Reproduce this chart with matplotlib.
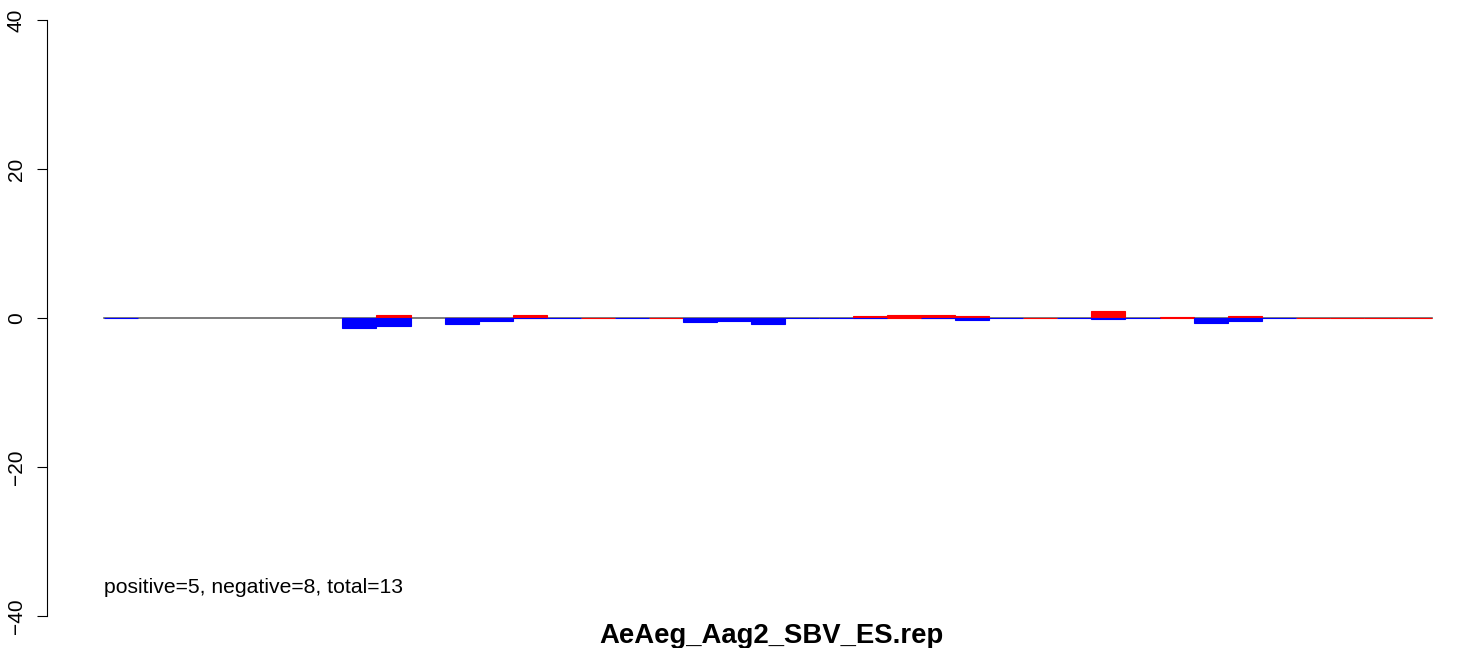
import matplotlib
matplotlib.use('Agg')
import matplotlib.pyplot as plt
import numpy as np

plt.rcParams['font.family'] = ['Liberation Sans', 'DejaVu Sans']

nan = np.nan
# red = positive values, blue = negative values (nan = no bar)
red_values = [nan, nan, nan, nan, nan, nan, nan, nan, 0.35, nan,
              0.0, 0.0, 0.45, nan, 0.0, nan, 0.0, nan, nan, nan,
              nan, nan, 0.3, 0.45, 0.45, 0.25, nan, 0.0, nan, 1.0,
              nan, 0.2, nan, 0.3, nan, 0.0, 0.0, 0.0, 0.0]
blue_values = [0.0, nan, nan, nan, nan, nan, nan, -1.4, -1.1, nan,
               -0.85, -0.45, 0.0, 0.0, nan, 0.0, nan, -0.6, -0.45, -0.8,
               0.0, 0.0, 0.0, nan, 0.0, -0.3, 0.0, nan, 0.0, -0.1,
               0.0, nan, -0.7, -0.45, 0.0, nan, nan, nan, nan]
y_ticks = [-40, -20, 0, 20, 40]
title = 'AeAeg_Aag2_SBV_ES.rep'
summary = 'positive=5, negative=8, total=13'

W, H = 1460, 648
fig = plt.figure(figsize=(W / 100, H / 100), dpi=100)

# plot region in pixels (R style, extends past the edges)
left_px, right_px, top_px, bottom_px = 51, 1485, -3.8, 639.8
ax = fig.add_axes([left_px / W, 1 - bottom_px / H,
                   (right_px - left_px) / W, (bottom_px - top_px) / H])

n = len(red_values)
x = np.arange(n)
ax.set_xlim(-0.04 * n, n * 1.04)
ax.set_ylim(-43.2, 43.2)

ax.plot([0, n], [0, 0], color='#666666', lw=1.2, zorder=1)

for xi, v in zip(x, red_values):
    if not np.isnan(v):
        ax.bar(xi, v, width=1, align='edge', color='red', edgecolor='red', lw=0.8, zorder=2)
for xi, v in zip(x, blue_values):
    if not np.isnan(v):
        ax.bar(xi, v, width=1, align='edge', color='blue', edgecolor='blue', lw=0.8, zorder=3)

for s in ['top', 'right', 'bottom']:
    ax.spines[s].set_visible(False)
ax.spines['left'].set_bounds(-40, 40)
ax.spines['left'].set_position(('outward', 3))
ax.set_xticks([])
ax.set_yticks(y_ticks)
ax.set_yticklabels([str(t).replace('-', '\u2212') for t in y_ticks], rotation=90, va='center', fontsize=15)
ax.tick_params(axis='y', length=7, pad=8)

ax.text(0, -36.2, summary, fontsize=15.2, ha='left', va='center')
fig.text(771 / W, 1 - 636 / H, title, fontsize=19.8, fontweight='bold', ha='center', va='center')

fig.savefig('out.png', dpi=100)
